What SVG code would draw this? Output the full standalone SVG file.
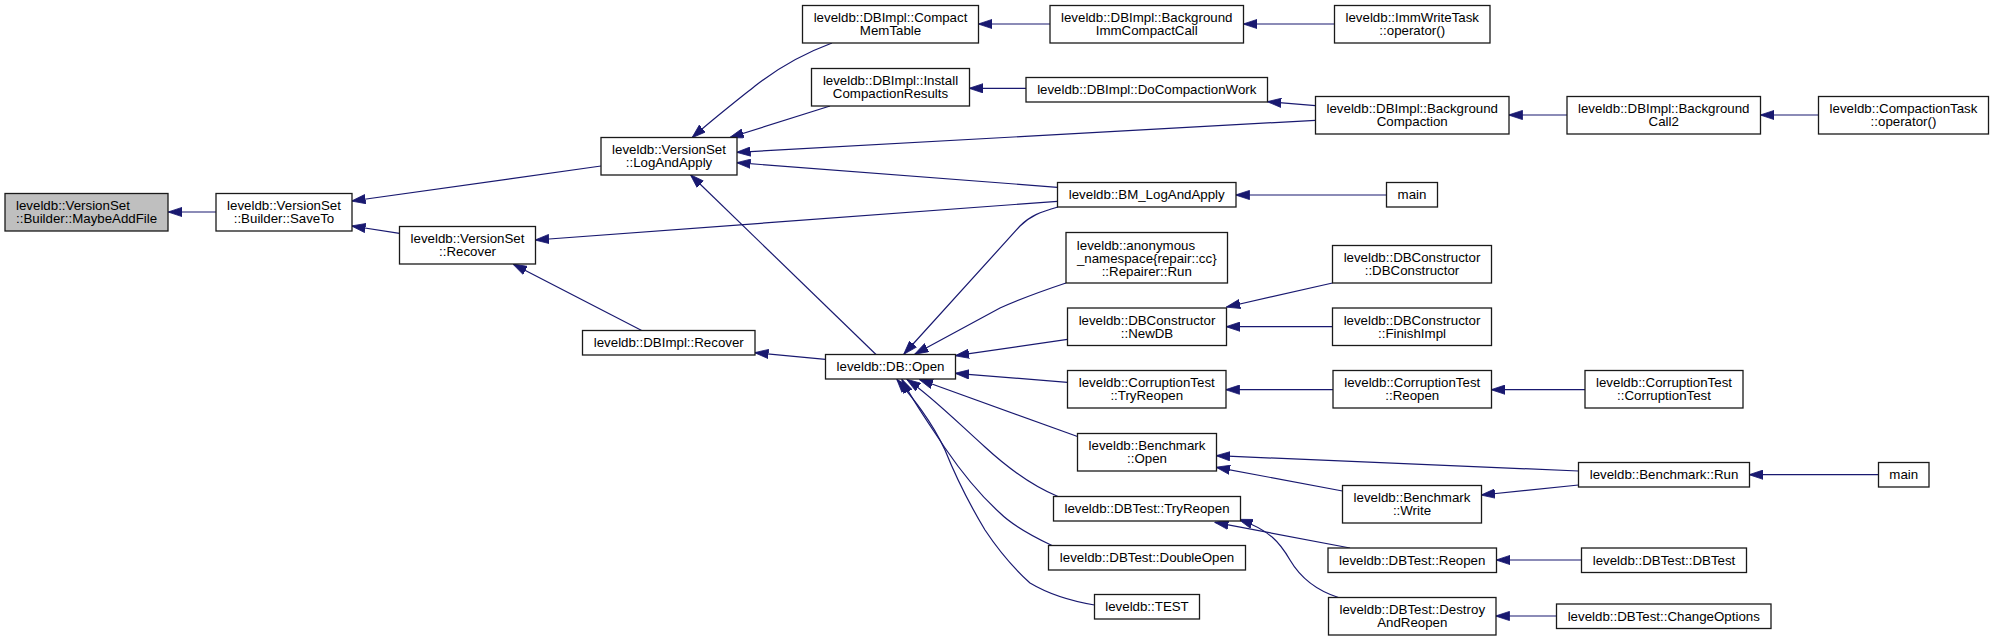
<svg xmlns="http://www.w3.org/2000/svg" width="1994" height="641" viewBox="0 0 1994 641">
<style>
.n rect{fill:#ffffff;stroke:#1a1a1a;stroke-width:1.3}
.n.root rect{fill:#bfbfbf}
.n text{font-family:"Liberation Sans",Arial,Helvetica,sans-serif;font-size:13.3px;fill:#000;text-anchor:middle}
.n text.l{text-anchor:start}
#edges path{fill:none;stroke:#191970;stroke-width:1.2;marker-end:url(#ah)}
</style>
<defs>
<marker id="ah" viewBox="0 0 14 10" refX="13.5" refY="5" markerWidth="14" markerHeight="10" markerUnits="userSpaceOnUse" orient="auto">
<path d="M0,0.4 L14,5 L0,9.6 z" fill="#191970" stroke="#191970" stroke-width="0.8"/>
</marker>
</defs>
<rect width="1994" height="641" fill="#ffffff"/>
<g id="edges">
<path d="M216,212 L168.5,212"/>
<path d="M601,166 L352,201"/>
<path d="M399.5,233.3 L352,226"/>
<path d="M832,43 C805,53 778,68 755,86 C735,102 712,120 692.3,137.5"/>
<path d="M830,106 L730,137.5"/>
<path d="M1315.5,120.3 L737,152.3"/>
<path d="M1057.5,187.3 L737,162.7"/>
<path d="M876,354.5 L690.7,175"/>
<path d="M1050,24 L978.7,24"/>
<path d="M1334.5,24 L1243.7,24"/>
<path d="M1026,88.3 L969.5,88.3"/>
<path d="M1315.5,105.7 L1267.7,101.7"/>
<path d="M1567,115 L1509,115"/>
<path d="M1818.5,115 L1760.7,115"/>
<path d="M1386.5,195 L1236,195"/>
<path d="M1057.5,201.3 L535.5,240"/>
<path d="M641.7,330.5 L513.3,264.3"/>
<path d="M825.5,359.3 L755,352.7"/>
<path d="M1058,207 C1040,212 1030,216 1020,226 L904,354"/>
<path d="M1066,283 C1045,290 1020,299 1000,308 L915,354"/>
<path d="M1067.5,339.3 L955.5,355.7"/>
<path d="M1332.5,283 L1226.7,307"/>
<path d="M1332.5,326.7 L1226.5,326.7"/>
<path d="M1067.5,382.3 L955.5,373.3"/>
<path d="M1333,389.7 L1226,389.7"/>
<path d="M1585,389.7 L1491.5,389.7"/>
<path d="M1077.5,436.5 L919.5,379.5"/>
<path d="M1578.5,471 L1216.5,455.7"/>
<path d="M1342.5,491 L1216.5,467.3"/>
<path d="M1578.5,485 L1481.5,495"/>
<path d="M1878.5,474.7 L1749.5,474.7"/>
<path d="M1058,496.5 C1035,487 1010,470 985,447 C955,420 930,395 907,379.5"/>
<path d="M1052,545.5 C1030,535 1012,525 1000,513 C980,495 960,470 945,448 C930,425 912,400 902,379.5"/>
<path d="M1094.5,605 C1065,600 1045,592 1030,583 C1010,565 995,545 985,530 C970,505 955,475 945,450 C930,418 910,395 897,379.5"/>
<path d="M1350,548 L1215,522.3"/>
<path d="M1338.5,597.5 C1315,590 1300,577 1290,560 C1280,543 1270,530 1239,519.5"/>
<path d="M1581.5,560 L1496.5,560"/>
<path d="M1556.5,616 L1496,616"/>
</g>
<g id="n0" class="n root"><rect x="5" y="193.5" width="163" height="37.5"/><text class="l" x="16" y="210.3">leveldb::VersionSet</text><text class="l" x="16" y="223.3">::Builder::MaybeAddFile</text></g>
<g id="n1" class="n"><rect x="216" y="193.5" width="136" height="37.5"/><text x="284" y="210.3">leveldb::VersionSet</text><text x="284" y="223.3">::Builder::SaveTo</text></g>
<g id="n2" class="n"><rect x="601" y="137.5" width="136" height="37.5"/><text x="669" y="154.3">leveldb::VersionSet</text><text x="669" y="167.3">::LogAndApply</text></g>
<g id="n3" class="n"><rect x="399.5" y="226.5" width="136" height="37.5"/><text x="467.5" y="243.3">leveldb::VersionSet</text><text x="467.5" y="256.3">::Recover</text></g>
<g id="n4" class="n"><rect x="802.5" y="5.5" width="176" height="37.5"/><text x="890.5" y="22.3">leveldb::DBImpl::Compact</text><text x="890.5" y="35.3">MemTable</text></g>
<g id="n5" class="n"><rect x="811.5" y="68.5" width="158" height="37.5"/><text x="890.5" y="85.3">leveldb::DBImpl::Install</text><text x="890.5" y="98.3">CompactionResults</text></g>
<g id="n6" class="n"><rect x="582.5" y="330.5" width="172.5" height="24.5"/><text x="668.75" y="347">leveldb::DBImpl::Recover</text></g>
<g id="n7" class="n"><rect x="825.5" y="354.5" width="130" height="24.5"/><text x="890.5" y="371">leveldb::DB::Open</text></g>
<g id="n8" class="n"><rect x="1050" y="5.5" width="193.5" height="37.5"/><text x="1146.75" y="22.3">leveldb::DBImpl::Background</text><text x="1146.75" y="35.3">ImmCompactCall</text></g>
<g id="n9" class="n"><rect x="1334.5" y="5.5" width="155.5" height="37.5"/><text x="1412.25" y="22.3">leveldb::ImmWriteTask</text><text x="1412.25" y="35.3">::operator()</text></g>
<g id="n10" class="n"><rect x="1026" y="77.5" width="241.5" height="24.5"/><text x="1146.75" y="94">leveldb::DBImpl::DoCompactionWork</text></g>
<g id="n11" class="n"><rect x="1315.5" y="96.5" width="193.5" height="37.5"/><text x="1412.25" y="113.3">leveldb::DBImpl::Background</text><text x="1412.25" y="126.3">Compaction</text></g>
<g id="n12" class="n"><rect x="1567" y="96.5" width="193.5" height="37.5"/><text x="1663.75" y="113.3">leveldb::DBImpl::Background</text><text x="1663.75" y="126.3">Call2</text></g>
<g id="n13" class="n"><rect x="1818.5" y="96.5" width="170" height="37.5"/><text x="1903.5" y="113.3">leveldb::CompactionTask</text><text x="1903.5" y="126.3">::operator()</text></g>
<g id="n14" class="n"><rect x="1057.5" y="182.5" width="178.5" height="24.5"/><text x="1146.75" y="199">leveldb::BM_LogAndApply</text></g>
<g id="n15" class="n"><rect x="1386.5" y="182.5" width="51" height="24.5"/><text x="1412" y="199">main</text></g>
<g id="n16" class="n"><rect x="1066" y="232.5" width="161.5" height="50.5"/><text class="l" x="1076.8" y="249.5">leveldb::anonymous</text><text x="1146.75" y="262.5">_namespace{repair::cc}</text><text x="1146.75" y="275.5">::Repairer::Run</text></g>
<g id="n17" class="n"><rect x="1332.5" y="245.5" width="159" height="37.5"/><text x="1412" y="262.3">leveldb::DBConstructor</text><text x="1412" y="275.3">::DBConstructor</text></g>
<g id="n18" class="n"><rect x="1067.5" y="308" width="159" height="37.5"/><text x="1147" y="324.8">leveldb::DBConstructor</text><text x="1147" y="337.8">::NewDB</text></g>
<g id="n19" class="n"><rect x="1332.5" y="308" width="159" height="37.5"/><text x="1412" y="324.8">leveldb::DBConstructor</text><text x="1412" y="337.8">::FinishImpl</text></g>
<g id="n20" class="n"><rect x="1067.5" y="370.5" width="158.5" height="37.5"/><text x="1146.75" y="387.3">leveldb::CorruptionTest</text><text x="1146.75" y="400.3">::TryReopen</text></g>
<g id="n21" class="n"><rect x="1333" y="370.5" width="158.5" height="37.5"/><text x="1412.25" y="387.3">leveldb::CorruptionTest</text><text x="1412.25" y="400.3">::Reopen</text></g>
<g id="n22" class="n"><rect x="1585" y="370.5" width="158" height="37.5"/><text x="1664" y="387.3">leveldb::CorruptionTest</text><text x="1664" y="400.3">::CorruptionTest</text></g>
<g id="n23" class="n"><rect x="1077.5" y="433.5" width="139" height="37.5"/><text x="1147" y="450.3">leveldb::Benchmark</text><text x="1147" y="463.3">::Open</text></g>
<g id="n24" class="n"><rect x="1342.5" y="485.5" width="139" height="37.5"/><text x="1412" y="502.3">leveldb::Benchmark</text><text x="1412" y="515.3">::Write</text></g>
<g id="n25" class="n"><rect x="1578.5" y="462.5" width="171" height="24.5"/><text x="1664" y="479">leveldb::Benchmark::Run</text></g>
<g id="n26" class="n"><rect x="1878.5" y="462.5" width="50.5" height="24.5"/><text x="1903.75" y="479">main</text></g>
<g id="n27" class="n"><rect x="1053.5" y="496.5" width="187" height="24.5"/><text x="1147" y="513">leveldb::DBTest::TryReopen</text></g>
<g id="n28" class="n"><rect x="1048.5" y="545.5" width="197" height="24.5"/><text x="1147" y="562">leveldb::DBTest::DoubleOpen</text></g>
<g id="n29" class="n"><rect x="1094.5" y="594.5" width="105" height="24.5"/><text x="1147" y="611">leveldb::TEST</text></g>
<g id="n30" class="n"><rect x="1328" y="548" width="168.5" height="24.5"/><text x="1412.25" y="564.5">leveldb::DBTest::Reopen</text></g>
<g id="n31" class="n"><rect x="1328.5" y="597.5" width="167.5" height="37.5"/><text x="1412.25" y="614.3">leveldb::DBTest::Destroy</text><text x="1412.25" y="627.3">AndReopen</text></g>
<g id="n32" class="n"><rect x="1581.5" y="548" width="165" height="24.5"/><text x="1664" y="564.5">leveldb::DBTest::DBTest</text></g>
<g id="n33" class="n"><rect x="1556.5" y="604" width="214.5" height="24.5"/><text x="1663.75" y="620.5">leveldb::DBTest::ChangeOptions</text></g>
</svg>
